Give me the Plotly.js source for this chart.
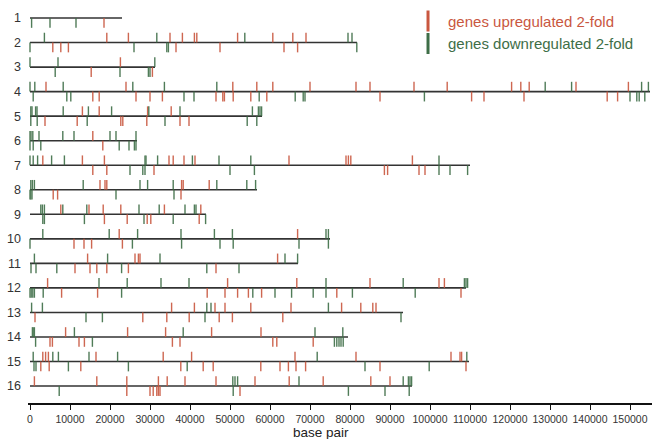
<!DOCTYPE html>
<html>
<head>
<meta charset="utf-8">
<script src="https://cdn.plot.ly/plotly-3.0.1.min.js"></script>
<style>html,body{margin:0;padding:0;background:#fff;}#chart{width:654px;height:439px;}</style>
</head>
<body>
<div id="chart"></div>
<script>
// Chromosome labels and lengths (base pair, as drawn on the chart axis)
const chromosomes = ["1","2","3","4","5","6","7","8","9","10","11","12","13","14","15","16"];
const chromLengths = [23000, 81750, 31250, 155000, 58000, 26750, 110000, 56750, 44000, 75000, 67000, 109000, 93250, 79500, 109750, 95500];

// Upregulated genes, ticks drawn above the chromosome line (one list per chromosome)
const upAbove = [
  [],
  [19200, 24600, 35000, 38100, 41100, 41700, 51900, 60700, 65700, 69000],
  [22600],
  [4000, 24000, 50700, 56700, 60700, 70000, 81500, 85000, 96000, 104300, 120400, 122700, 124800, 136500, 149600],
  [13100, 17300, 29400, 35300],
  [15700],
  [3200, 13100, 18600, 34750, 35800, 38500, 41250, 64750, 79000, 79600, 80200, 95600],
  [17500, 18750, 19200, 37900, 38300, 44800],
  [7700, 14750, 18300, 22700, 33600, 42700],
  [22300, 66900],
  [14400, 26250, 27100, 27500, 61900],
  [4400, 49400, 66700, 85000, 102250, 103600],
  [35400, 41100, 46250, 48750, 55200, 65250, 77900, 82700, 85700, 86500],
  [8900, 24400, 33900, 45400, 57750],
  [3200, 3900, 4600, 16500, 33300, 40400, 66250, 81500, 105250, 107500, 107900],
  [1100, 16700, 24200, 32100, 34300, 38750, 46500, 56250, 64800, 73300, 85200, 90000]
];
// Upregulated genes, ticks drawn below the line
const upBelow = [
  [18500],
  [5700, 7700, 9600, 36500, 47500, 63500, 66900],
  [15300, 30600],
  [15700, 17300, 26500, 30000, 33100, 46500, 48200, 48600, 50800, 55200, 59200, 87500, 110400, 113500, 123500, 144300, 146900],
  [3750, 11800, 22700, 23200, 29200, 37500, 39750],
  [18200],
  [15700, 19200, 31000, 88600, 89400, 97250, 98750],
  [5800, 6900, 37750],
  [18600, 24300, 29300, 30200, 42300],
  [11000, 13500, 15400, 23100],
  [11250, 15000, 16700, 19200, 24600, 46500],
  [7900, 16900, 44300, 48750, 51900, 54600, 57900, 76700, 107750],
  [1250, 28200, 34200, 39800, 47300, 50600, 63200],
  [5000, 5600, 12250, 13600, 35600, 37500, 60700, 61700, 70800],
  [2700, 4800, 12700, 37700, 43300, 45800, 57700, 62500, 64600, 66500, 68900, 87500, 109000],
  [24200, 30000, 30800, 31700, 32100, 32500, 52500]
];
// Downregulated genes, ticks drawn above the line
const downAbove = [
  [],
  [3600, 31700, 53700, 79500, 80500],
  [0, 7000, 31200],
  [0, 1200, 8300, 25700, 33600, 46700, 128800, 135400, 152900, 154600],
  [200, 500, 1400, 1750, 8300, 14600, 20400, 29700, 37500, 55600, 57100, 57500, 57900],
  [0, 250, 700, 2250, 8200, 11000, 20000, 21500, 26500],
  [0, 800, 1900, 5400, 8600, 28750, 29000, 31900, 40600, 47250, 55200, 102250],
  [200, 600, 1100, 13300, 27500, 29400, 35800, 46700, 54200, 56400],
  [2700, 3100, 3600, 8200, 14200, 27250, 32300, 38750, 41100, 41500],
  [3200, 19800, 26900, 37750, 46100, 50600, 74000, 74600],
  [1100, 19400, 32500, 63750, 66900],
  [17250, 24300, 32750, 39750, 74000, 93300, 108600, 109000, 109400],
  [400, 3100, 44200, 45250, 74600],
  [600, 800, 1100, 11100, 38300, 71250, 78200],
  [800, 5700, 7100, 14750, 21900, 71800, 109200],
  [50700, 51250, 51900, 67250, 93300, 94600, 95000, 95400]
];
// Downregulated genes, ticks drawn below the line
const downBelow = [
  [400, 5000, 11500],
  [0, 26000, 34200, 34600, 81700],
  [6300, 22500, 29600, 30000],
  [800, 9200, 10200, 38500, 41000, 57300, 66300, 68300, 68750, 98600, 150000, 151700, 152300, 153700],
  [200, 1800, 14300, 33750, 54300, 56700],
  [0, 800, 2700, 22300, 24750, 26100, 26500],
  [25000, 28200, 28750, 50000, 56100, 102250, 105000, 109400],
  [0, 200, 500, 21500, 36000],
  [3200, 3600, 13600, 28500, 35800, 43900],
  [0, 25600, 37900, 47500, 50800, 67250, 74600],
  [250, 1500, 6700, 22900, 44200, 52250],
  [0, 300, 700, 1100, 3300, 22900, 55700, 61250, 65400, 70800, 74000, 80600, 96300],
  [14000, 18100, 43750, 92750],
  [1400, 15600, 76100, 76700, 77250, 77750, 78300],
  [1000, 1500, 9600, 24600, 39300, 83750, 99800],
  [7300, 50800, 79600, 88750, 94800]
];

const xTickVals = [0,10000,20000,30000,40000,50000,60000,70000,80000,90000,100000,110000,120000,130000,140000,150000];
const xTickText = ["0","10000","20000","30000","40000","50000","60000","70000","80000","90000","100000","110000","120000","130000","140000","150000"];
const legendNames = ["genes upregulated 2-fold", "genes downregulated 2-fold"];

const UP = "#c9573f", DOWN = "#3e6e47", CHROM = "#333333";
const TICK = 0.4; // tick length in row units

function ticks(data, dir) {
  const xs = [], ys = [];
  data.forEach((list, i) => {
    list.forEach(p => {
      xs.push(p, p, null);
      ys.push(i + 1, i + 1 + dir * TICK, null);
    });
  });
  return {xs, ys};
}

const cx = [], cy = [];
chromLengths.forEach((len, i) => { cx.push(0, len, null); cy.push(i + 1, i + 1, null); });

const traces = [];
traces.push({x: cx, y: cy, mode: "lines", line: {color: CHROM, width: 1.6}, hoverinfo: "skip", showlegend: false});
[[upAbove, -1, UP], [upBelow, 1, UP], [downAbove, -1, DOWN], [downBelow, 1, DOWN]].forEach(([d, dir, col]) => {
  const t = ticks(d, dir);
  traces.push({x: t.xs, y: t.ys, mode: "lines", line: {color: col, width: 1.4}, opacity: 0.9, hoverinfo: "skip", showlegend: false});
});
// legend entries
traces.push({x: [null], y: [null], mode: "markers", name: '<span style="color:' + UP + '">' + legendNames[0] + '</span>',
  marker: {symbol: "line-ns-open", size: 15, color: UP, line: {color: UP, width: 3}}});
traces.push({x: [null], y: [null], mode: "markers", name: '<span style="color:' + DOWN + '">' + legendNames[1] + '</span>',
  marker: {symbol: "line-ns-open", size: 15, color: DOWN, line: {color: DOWN, width: 3}}});

const layout = {
  width: 654, height: 439,
  margin: {l: 28, r: 2, t: 0, b: 36},
  paper_bgcolor: "#fff", plot_bgcolor: "#fff",
  font: {family: "Liberation Sans, Arial, sans-serif", color: "#333"},
  showlegend: true,
  legend: {x: 0.609, xanchor: "left", y: 0.988, yanchor: "top", bgcolor: "rgba(0,0,0,0)",
    font: {size: 15, family: "Liberation Sans, Arial, sans-serif"}, tracegroupgap: 0},
  xaxis: {range: [-500, 155500], showgrid: false, zeroline: false, showline: true, linecolor: "#111", linewidth: 2,
    ticks: "outside", ticklen: 5, tickwidth: 1, tickcolor: "#111",
    tickvals: xTickVals, ticktext: xTickText, tickfont: {size: 10.5, color: "#333"}, fixedrange: true},
  yaxis: {range: [16.69, 0.266], showgrid: false, zeroline: false, showline: false, ticks: "",
    tickvals: chromosomes.map((c, i) => i + 1), ticktext: chromosomes, tickfont: {size: 12.5, color: "#333"},
    ticklabelstandoff: 6, fixedrange: true},
  annotations: [{text: "base pair", xref: "paper", yref: "paper", x: 0.4696, y: 0, yshift: -29, xanchor: "center", yanchor: "middle",
    showarrow: false, font: {size: 13.5, color: "#222"}}]
};

Plotly.newPlot("chart", traces, layout, {displayModeBar: false, staticPlot: true});
</script>
</body>
</html>
